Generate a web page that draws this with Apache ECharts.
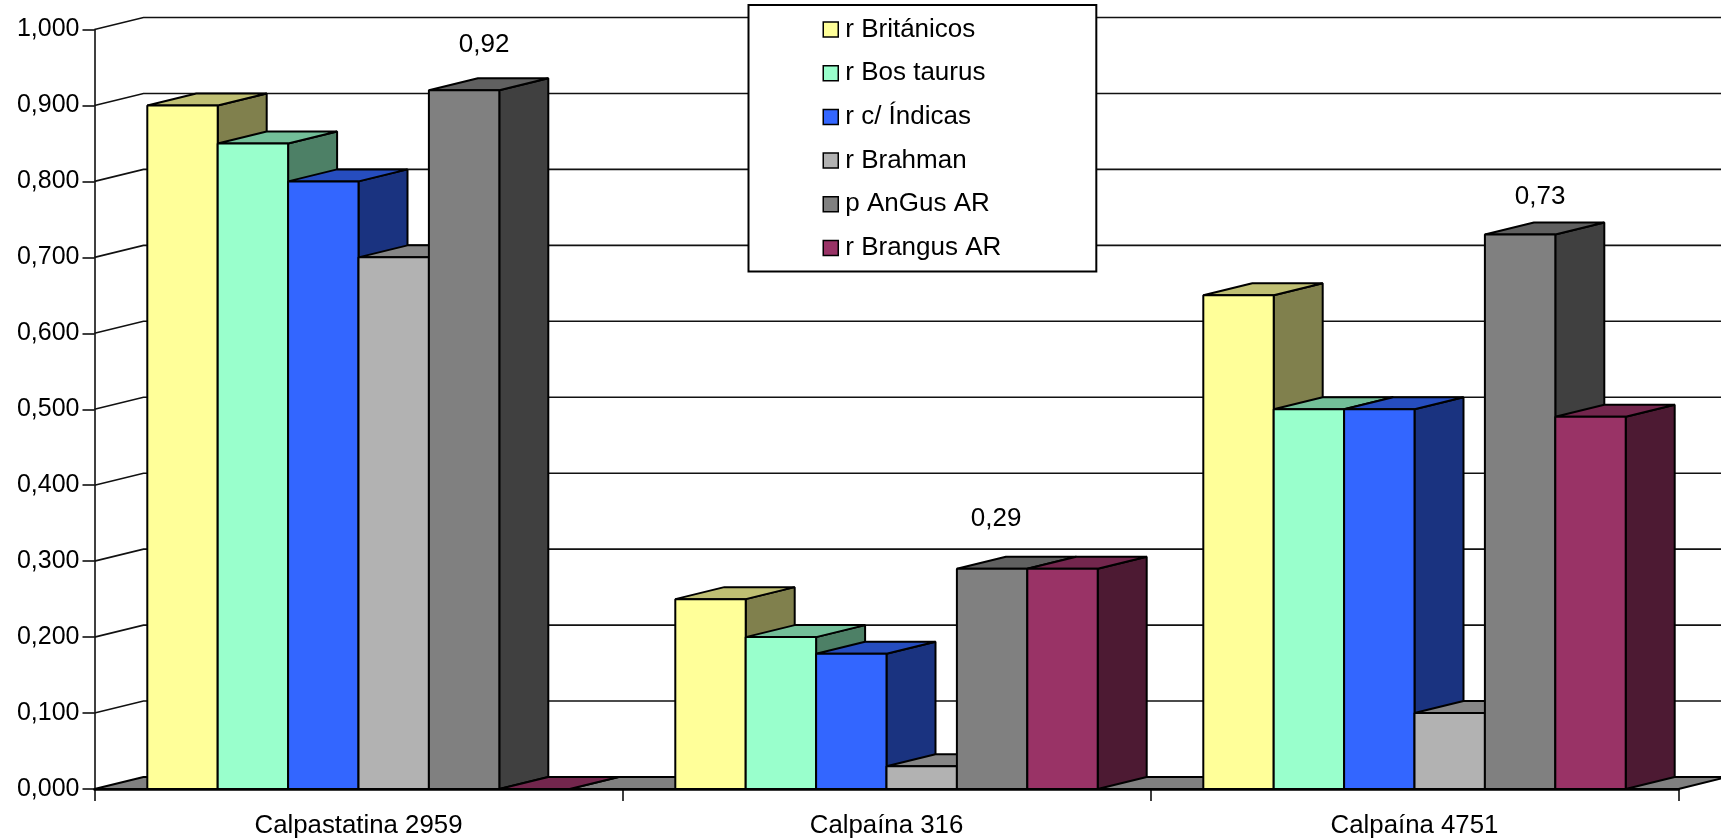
<!DOCTYPE html>
<html>
<head>
<meta charset="utf-8">
<style>
  html, body { margin: 0; padding: 0; background: #fff; overflow: hidden; }
  #chart { width: 1721px; height: 839px; }
</style>
<script src="https://cdn.jsdelivr.net/npm/echarts@6/dist/echarts.min.js"></script>
</head>
<body>
<div id="chart"></div>
<script>
const categories = ['Calpastatina 2959', 'Calpaína 316', 'Calpaína 4751']
const yTicks = [0, 0.1, 0.2, 0.3, 0.4, 0.5, 0.6, 0.7, 0.8, 0.9, 1]

const rBritanicos = [0.90, 0.25, 0.65]
const rBosTaurus = [0.85, 0.20, 0.50]
const rIndicas = [0.80, 0.178, 0.50]
const rBrahman = [0.70, 0.03, 0.10]
const pAngus = [0.92, 0.29, 0.73]
const rBrangus = [0.00, 0.29, 0.49]

const seriesNames = ['r Británicos', 'r Bos taurus', 'r c/ Índicas', 'r Brahman', 'p AnGus AR', 'r Brangus AR']
const seriesValues = [rBritanicos, rBosTaurus, rIndicas, rBrahman, pAngus, rBrangus]
const seriesColors = ['#FFFF99', '#99FFCC', '#3366FF', '#B2B2B2', '#808080', '#993366']

// 3D look: pixels the depth of the box goes right and up
const DEPTH_X = 49
const DEPTH_Y = 12
const FONT = '"Liberation Sans", Arial, sans-serif'
const LINE = { stroke: '#000', lineWidth: 2, lineJoin: 'bevel' }
// the value labels sit on pAngus only, each nudged by hand like in the original
const angusLabelOffset = [[20, -45], [4, -50], [20, -38]]

const shade = (hex, k) => {
  const n = parseInt(hex.slice(1), 16)
  const c = [n >> 16, (n >> 8) & 255, n & 255].map(v => Math.round(v * k))
  return `rgb(${c.join(',')})`
}

const poly = (points, fill) => ({
  type: 'polygon',
  shape: { points },
  style: { ...LINE, fill }
})

const renderBar = (barIndex, color, labels) => (params, api) => {
  const cat = api.value(0)
  const value = api.value(1)
  const band = api.size([1, 0])[0]
  const barW = band * 0.8 / 6
  const base = api.coord([cat, 0])
  const top = api.coord([cat, value])
  const x0 = base[0] - band * 0.4 + barIndex * barW
  const x1 = x0 + barW
  const y0 = base[1]
  const y1 = top[1]
  const dx = DEPTH_X
  const dy = DEPTH_Y

  const children = [
    poly([[x1, y0], [x1 + dx, y0 - dy], [x1 + dx, y1 - dy], [x1, y1]], shade(color, 0.5)),
    poly([[x0, y1], [x1, y1], [x1 + dx, y1 - dy], [x0 + dx, y1 - dy]], shade(color, 0.75))
  ]
  if (value > 0) {
    children.push(poly([[x0, y0], [x1, y0], [x1, y1], [x0, y1]], color))
  }
  if (labels) {
    const off = labels[params.dataIndex]
    children.push({
      type: 'text',
      style: {
        text: value.toFixed(2).replace('.', ','),
        x: (x0 + x1) / 2 + off[0],
        y: y1 + off[1],
        fill: '#000',
        font: `26px ${FONT}`,
        align: 'center',
        verticalAlign: 'middle'
      }
    })
  }
  return { type: 'group', children }
}

// back wall grid lines and the grey floor
const renderWall = (params, api) => {
  const v = api.value(1)
  const left = api.coord([0, v])
  const band = api.size([1, 0])[0]
  const xLeft = left[0] - band / 2
  const xRight = xLeft + band * categories.length
  const y = left[1]
  if (v === 0) {
    return poly([[xLeft, y], [xRight, y], [xRight + DEPTH_X, y - DEPTH_Y], [xLeft + DEPTH_X, y - DEPTH_Y]], '#808080')
  }
  return {
    type: 'polyline',
    shape: { points: [[xLeft, y], [xLeft + DEPTH_X, y - DEPTH_Y], [xRight + DEPTH_X, y - DEPTH_Y]] },
    style: { stroke: '#111', lineWidth: 1.6, fill: null }
  }
}

const chart = echarts.init(document.getElementById('chart'), null, { renderer: 'canvas' })

chart.setOption({
  animation: false,
  backgroundColor: '#fff',
  grid: { left: 94.5, top: 29.5, width: 1584, height: 759.5, containLabel: false },
  legend: {
    data: seriesNames,
    orient: 'vertical',
    left: 748.5,
    top: 5,
    icon: 'rect',
    align: 'left',
    itemWidth: 15,
    itemHeight: 15,
    itemGap: 17.7,
    padding: [11.5, 95, 10.5, 74],
    backgroundColor: '#fff',
    borderColor: '#000',
    borderWidth: 2,
    z: 10,
    selectedMode: false,
    itemStyle: { borderColor: '#000', borderWidth: 1.5 },
    textStyle: { fontFamily: FONT, fontSize: 26, color: '#000', padding: [0, 0, 0, 2] }
  },
  xAxis: {
    type: 'category',
    data: categories,
    z: 6,
    axisLine: { lineStyle: { color: '#000', width: 2.5 } },
    axisTick: { show: true, length: 12, lineStyle: { color: '#000', width: 1.5 } },
    axisLabel: { color: '#000', fontFamily: FONT, fontSize: 25.8, margin: 24 },
    splitLine: { show: false }
  },
  yAxis: {
    type: 'value',
    min: 0,
    max: 1,
    interval: 0.1,
    axisLine: { show: true, lineStyle: { color: '#000', width: 1.5 } },
    axisTick: { show: true, length: 12, lineStyle: { color: '#000', width: 1.5 } },
    axisLabel: {
      color: '#000',
      fontFamily: FONT,
      fontSize: 25,
      margin: 15,
      padding: [4, 0, 0, 0],
      formatter: v => v.toFixed(3).replace('.', ',')
    },
    splitLine: { show: false }
  },
  series: [
    {
      type: 'custom',
      name: 'wall',
      silent: true,
      z: 1,
      renderItem: renderWall,
      encode: { x: 0, y: 1 },
      data: yTicks.map(v => [0, v])
    },
    ...seriesNames.map((name, i) => ({
      type: 'custom',
      name,
      z: 2 + i * 0.1,
      itemStyle: { color: seriesColors[i] },
      renderItem: renderBar(i, seriesColors[i], name === 'p AnGus AR' ? angusLabelOffset : null),
      encode: { x: 0, y: 1 },
      data: seriesValues[i].map((v, c) => [c, v])
    }))
  ]
})
</script>
</body>
</html>
